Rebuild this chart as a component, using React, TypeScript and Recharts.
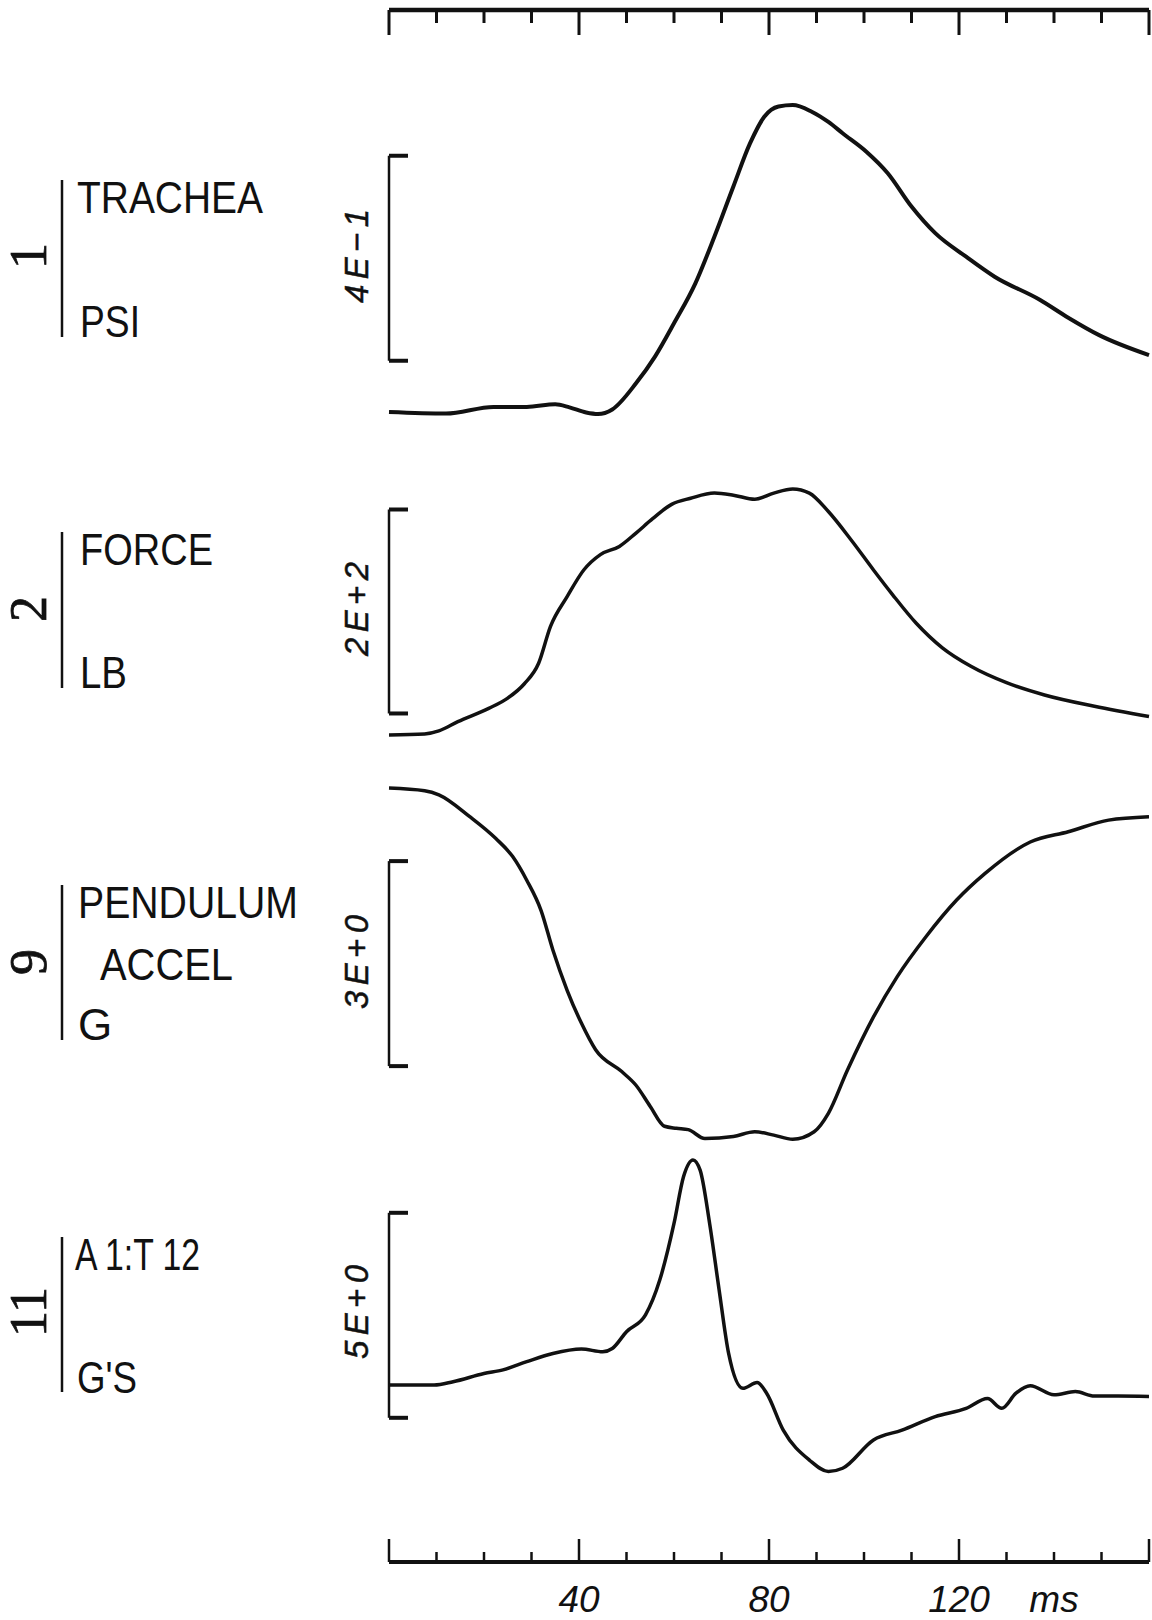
import React from 'react';
import { LineChart, Line, XAxis, YAxis, ReferenceLine } from 'recharts';

// time axis (ms)
const TIME_TICKS = [0, 10, 20, 30, 40, 50, 60, 70, 80, 90, 100, 110, 120, 130, 140, 150, 160];
const MAJOR_TICKS = [0, 40, 80, 120, 160];
const TICK_LABELS: Record<number, string> = { 40: '40', 80: '80', 120: '120', 140: 'ms' };

// channel 1 - trachea pressure, psi
const TRACHEA_T = [0, 12, 22, 29, 35, 38, 41.5, 44, 47, 52, 56, 60, 64.5, 68.5, 72.5, 76, 79, 82, 85, 89, 92.5, 95.5, 100.5, 105, 110, 115, 121.5, 127.5, 137, 143, 149.5, 160];
const TRACHEA_PSI = [0, -0.003, 0.01, 0.01, 0.015, 0.009, -0.001, -0.004, 0.005, 0.056, 0.108, 0.173, 0.251, 0.342, 0.44, 0.524, 0.576, 0.596, 0.599, 0.586, 0.566, 0.544, 0.508, 0.466, 0.401, 0.349, 0.303, 0.264, 0.219, 0.184, 0.15, 0.111];

// channel 2 - force, lb
const FORCE_T = [0, 7.5, 10.5, 14.5, 21, 25, 28.5, 31.5, 34, 37.5, 41, 44.5, 48.5, 52, 55.5, 59.5, 63.5, 68.5, 72.5, 77, 81, 85, 88.5, 92.5, 97.5, 102, 106, 111, 116.5, 122.5, 130, 138, 148.5, 160];
const FORCE_LB = [0, 1, 4, 13, 26, 36, 50, 70, 106, 135, 161, 176, 184, 197, 211, 225, 231, 236, 234, 230, 236, 240, 236, 218, 189, 161, 137, 109, 85, 67, 51, 39, 28, 18];

// channel 9 - pendulum accel, G
const PENDULUM_T = [0, 7.5, 10.5, 17, 22.5, 26, 29, 32, 34.5, 37.5, 40.5, 43.5, 49, 52, 55, 58, 60.5, 63, 66.5, 72.5, 77, 81, 85, 89.5, 92.5, 96.5, 102, 107, 113, 119.5, 125.5, 135, 143, 151.5, 160];
const PENDULUM_G = [0, -0.04, -0.1, -0.42, -0.74, -1.0, -1.35, -1.79, -2.37, -2.96, -3.44, -3.83, -4.15, -4.35, -4.66, -4.95, -4.98, -5.0, -5.13, -5.1, -5.03, -5.08, -5.14, -5.03, -4.76, -4.13, -3.35, -2.76, -2.18, -1.64, -1.25, -0.79, -0.64, -0.47, -0.42];

// channel 11 - A1:T12, G's
const SPINE_T = [0, 9.5, 13.5, 20, 24, 29, 34.5, 40.5, 45, 47, 50, 54, 57, 60, 62, 64, 65.5, 67.5, 69.5, 71.5, 74.5, 77.5, 79.5, 83, 88.5, 92.5, 95.5, 102, 108, 115, 121.5, 126, 129, 132, 135, 140, 144.5, 148.5, 153.5, 160];
const SPINE_G = [0, 0, 0.08, 0.28, 0.37, 0.57, 0.77, 0.88, 0.81, 0.89, 1.3, 1.71, 2.56, 3.94, 5.08, 5.49, 5.24, 3.94, 2.32, 0.77, -0.08, 0.06, -0.2, -1.1, -1.83, -2.11, -2.03, -1.34, -1.1, -0.77, -0.57, -0.33, -0.57, -0.2, -0.02, -0.24, -0.16, -0.27, -0.27, -0.28];

// scale bars [bottom, top] in each channel's units
const TRACHEA_BAR = [0.1, 0.5];
const FORCE_BAR = [21, 220];
const PENDULUM_BAR = [-4.07, -1.07];
const SPINE_BAR = [-0.8, 4.2];

const W = 1152;
const H = 1620;
const TOP = 10;
const BOTTOM = 1562;

// y domain that puts value 0 at pixel zeroY with the given pixels per unit
const domainFor = (zeroY: number, pxPerUnit: number): [number, number] => [
  (zeroY - BOTTOM) / pxPerUnit,
  (zeroY - TOP) / pxPerUnit,
];

const toRows = (ts: number[], vs: number[]) => ts.map((t, i) => ({ t, v: vs[i] }));

const INK = '#111';

// ticks hang down from the top axis line
const TopTick = (props: any) => {
  const { x, payload } = props;
  const major = MAJOR_TICKS.includes(payload.value);
  return <line x1={x} x2={x} y1={TOP} y2={TOP + (major ? 25 : 13)} stroke={INK} strokeWidth={3} />;
};

const BottomTick = (props: any) => {
  const { x, payload } = props;
  const major = MAJOR_TICKS.includes(payload.value);
  const label = TICK_LABELS[payload.value];
  return (
    <g>
      <line x1={x} x2={x} y1={BOTTOM} y2={BOTTOM - (major ? 23 : 10)} stroke={INK} strokeWidth={2.5} />
      {label && (
        <text x={x} y={BOTTOM + 50} textAnchor="middle" fontStyle="italic" fontSize={37} fontFamily="Liberation Sans" fill={INK}>
          {label}
        </text>
      )}
    </g>
  );
};

const Bracket = ({ id, bar, arm }: { id: string; bar: number[]; arm: number }) => (
  <>
    <ReferenceLine xAxisId="b" yAxisId={id} segment={[{ x: 0, y: bar[0] }, { x: 0, y: bar[1] }]} stroke={INK} strokeWidth={2.5} />
    <ReferenceLine xAxisId="b" yAxisId={id} segment={[{ x: 0, y: bar[0] }, { x: arm, y: bar[0] }]} stroke={INK} strokeWidth={4} />
    <ReferenceLine xAxisId="b" yAxisId={id} segment={[{ x: 0, y: bar[1] }, { x: arm, y: bar[1] }]} stroke={INK} strokeWidth={4} />
  </>
);

const panels = [
  { num: '1', cy: 256, scale: '4E\u22121', lines: [{ s: 'TRACHEA', x: 77, y: 213, len: 186 }, { s: 'PSI', x: 80, y: 337, len: 60 }], bar: [180, 337] },
  { num: '2', cy: 609, scale: '2E+2', lines: [{ s: 'FORCE', x: 80, y: 565, len: 133 }, { s: 'LB', x: 80, y: 688, len: 47 }], bar: [532, 688] },
  { num: '9', cy: 962, scale: '3E+0', lines: [{ s: 'PENDULUM', x: 78, y: 918, len: 220 }, { s: 'ACCEL', x: 100, y: 980, len: 133 }, { s: 'G', x: 78, y: 1040, len: 0 }], bar: [885, 1040] },
  { num: '11', cy: 1312, scale: '5E+0', lines: [{ s: 'A 1:T 12', x: 75, y: 1270, len: 125 }, { s: "G'S", x: 77, y: 1393, len: 60 }], bar: [1237, 1392] },
];

const Labels = () => (
  <svg width={W} height={H} style={{ position: 'absolute', left: 0, top: 0, pointerEvents: 'none' }}>
    {panels.map((p) => (
      <g key={p.num}>
        <text
          x={28}
          y={p.cy}
          transform={`rotate(-90 28 ${p.cy})`}
          textAnchor="middle"
          dominantBaseline="central"
          fontFamily="Liberation Serif"
          fontSize={52}
          stroke={INK}
          strokeWidth={0.8}
          fill={INK}
        >
          {p.num}
        </text>
        <line x1={62} x2={62} y1={p.bar[0]} y2={p.bar[1]} stroke={INK} strokeWidth={2.5} />
        {p.lines.map((l) => (
          <text
            key={l.s}
            x={l.x}
            y={l.y}
            fontFamily="Liberation Sans"
            fontSize={44}
            fill={INK}
            {...(l.len ? { textLength: l.len, lengthAdjust: 'spacingAndGlyphs' } : {})}
          >
            {l.s}
          </text>
        ))}
        <text
          x={356}
          y={p.cy}
          transform={`rotate(-90 356 ${p.cy})`}
          textAnchor="middle"
          dominantBaseline="central"
          fontFamily="Liberation Sans"
          fontStyle="italic"
          fontSize={33}
          textLength={94}
          lengthAdjust="spacing"
          stroke={INK}
          strokeWidth={0.5}
          fill={INK}
        >
          {p.scale}
        </text>
      </g>
    ))}
  </svg>
);

export default function App() {
  return (
    <div style={{ position: 'absolute', left: 0, top: 0, width: W, height: H, background: '#fff' }}>
      <LineChart width={W} height={H} margin={{ top: TOP - 1, right: 3, bottom: H - BOTTOM - 1, left: 389 }}>
        <XAxis
          xAxisId="t"
          orientation="top"
          type="number"
          dataKey="t"
          domain={[0, 160]}
          ticks={TIME_TICKS}
          interval={0}
          height={1}
          tickSize={0}
          tickMargin={0}
          tick={<TopTick />}
          axisLine={{ stroke: INK, strokeWidth: 4.5 }}
        />
        <XAxis
          xAxisId="b"
          orientation="bottom"
          type="number"
          dataKey="t"
          domain={[0, 160]}
          ticks={TIME_TICKS}
          interval={0}
          height={1}
          tickSize={0}
          tickMargin={0}
          tick={<BottomTick />}
          axisLine={{ stroke: INK, strokeWidth: 4 }}
        />
        <YAxis yAxisId="p1" hide type="number" domain={domainFor(412, 512.5)} allowDataOverflow />
        <YAxis yAxisId="p2" hide type="number" domain={domainFor(735, 1.025)} allowDataOverflow />
        <YAxis yAxisId="p3" hide type="number" domain={domainFor(788, 205 / 3)} allowDataOverflow />
        <YAxis yAxisId="p4" hide type="number" domain={domainFor(1385, 41)} allowDataOverflow />

        {Bracket({ id: 'p1', bar: TRACHEA_BAR, arm: 4 })}
        {Bracket({ id: 'p2', bar: FORCE_BAR, arm: 4 })}
        {Bracket({ id: 'p3', bar: PENDULUM_BAR, arm: 4 })}
        {Bracket({ id: 'p4', bar: SPINE_BAR, arm: 4 })}

        <Line xAxisId="t" yAxisId="p1" data={toRows(TRACHEA_T, TRACHEA_PSI)} dataKey="v" type="monotone" stroke={INK} strokeWidth={4} dot={false} isAnimationActive={false} />
        <Line xAxisId="b" yAxisId="p2" data={toRows(FORCE_T, FORCE_LB)} dataKey="v" type="monotone" stroke={INK} strokeWidth={3.5} dot={false} isAnimationActive={false} />
        <Line xAxisId="b" yAxisId="p3" data={toRows(PENDULUM_T, PENDULUM_G)} dataKey="v" type="monotone" stroke={INK} strokeWidth={3.5} dot={false} isAnimationActive={false} />
        <Line xAxisId="b" yAxisId="p4" data={toRows(SPINE_T, SPINE_G)} dataKey="v" type="monotone" stroke={INK} strokeWidth={3.5} dot={false} isAnimationActive={false} />
      </LineChart>
      <Labels />
    </div>
  );
}
